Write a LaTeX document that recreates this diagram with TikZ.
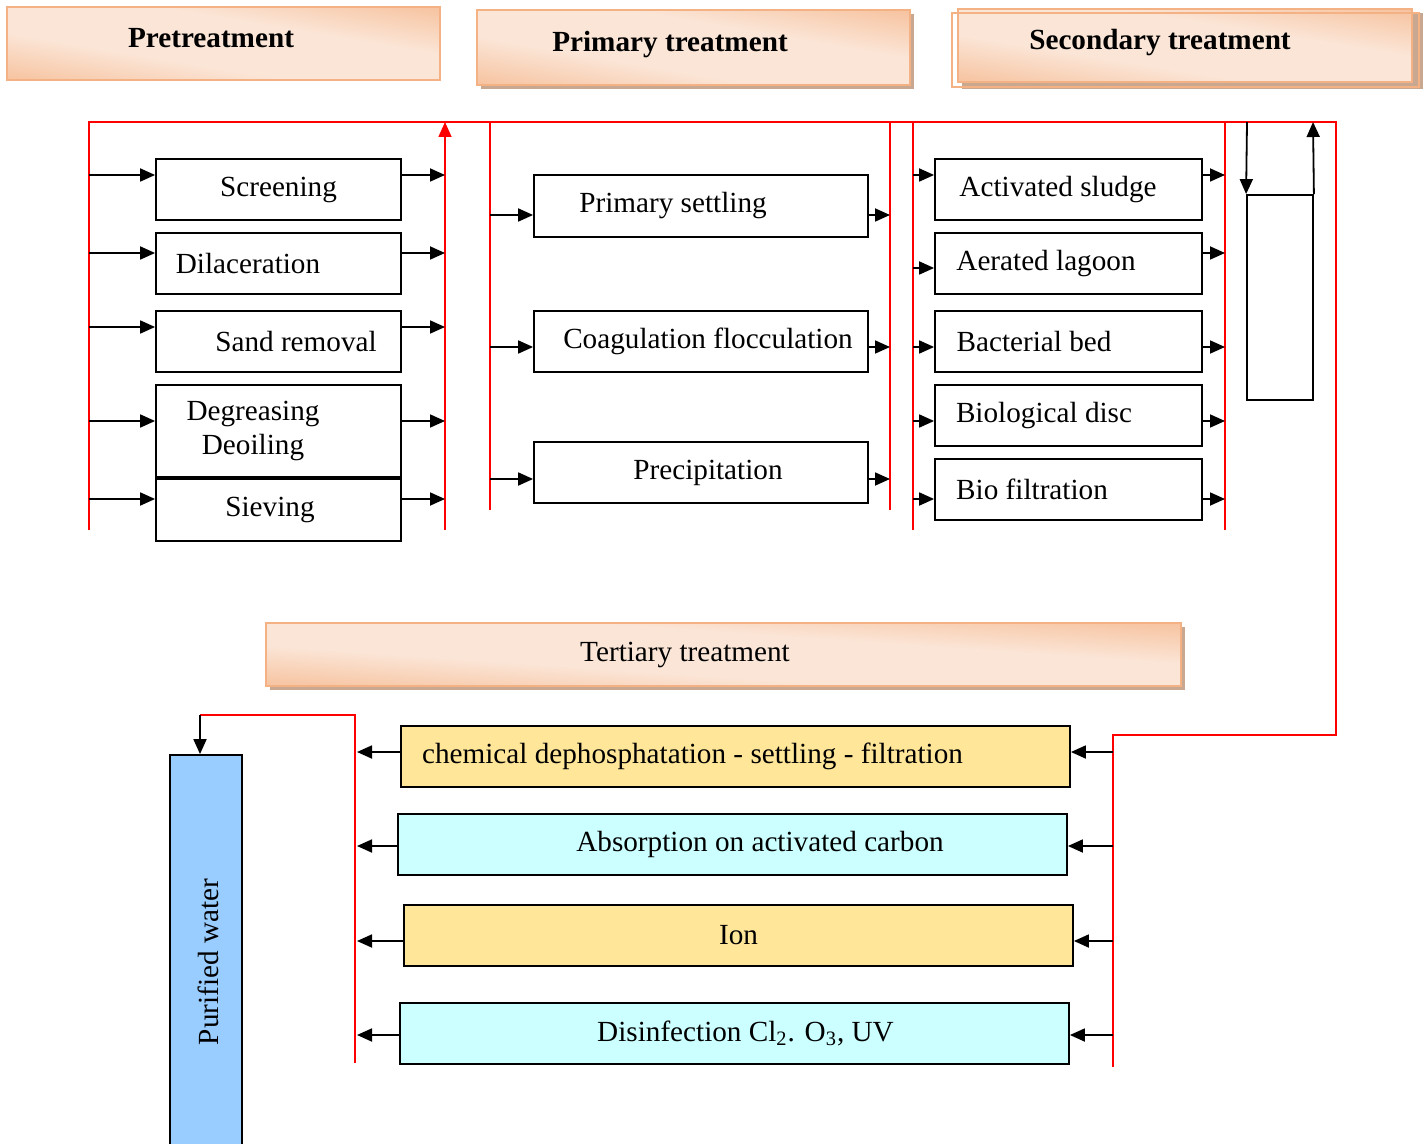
\documentclass[tikz,border=0pt]{standalone}
\usepackage{fontspec}
\setmainfont{Liberation Serif}
\usetikzlibrary{arrows.meta}
\definecolor{hdark}{HTML}{F4B183}
\definecolor{hlight}{HTML}{FBE5D6}
\definecolor{shadc}{HTML}{C8A890}
\definecolor{tyel}{HTML}{FFE699}
\definecolor{tcyan}{HTML}{CCFFFF}
\definecolor{pwblue}{HTML}{99CCFF}
\pgfdeclareverticalshading{hdrsh}{100bp}{color(0bp)=(hdark); color(20bp)=(hdark); color(42bp)=(hlight); color(58bp)=(hlight); color(80bp)=(hdark); color(100bp)=(hdark)}
% #1,#2 = top-left corner, #3,#4 = bottom-right corner (px), #5 = angle, #6 = half height, #7 = half width
\newcommand\hdrgrad[7]{%
  \begin{scope}
    \clip (#1,#2) rectangle (#3,#4);
    \begin{scope}[transform canvas={rotate around={#5:({(#1+#3)/2},{(#2+#4)/2})}}]
      \shade[shading=hdrsh] ({(#1+#3)/2-#7},{(#2+#4)/2-#6}) rectangle ({(#1+#3)/2+#7},{(#2+#4)/2+#6});
    \end{scope}
  \end{scope}}
\begin{document}
\begin{tikzpicture}[x=0.5pt,y=-0.5pt,
  txt/.style={font=\fontsize{14.6}{17}\selectfont},
  hfont/.style={font=\bfseries\fontsize{14.6}{17}\selectfont},
  box/.style={draw=black, line width=0.9pt, inner sep=0pt},
  hdr/.style={draw=hdark, line width=1pt, inner sep=0pt},
  arr/.style={-{Triangle[length=7.5pt,width=6.5pt]}, line width=0.9pt},
  redln/.style={draw=red, line width=0.8pt},
  pbox/.style={box, minimum width=122.5pt, minimum height=30.5pt},
  mbox/.style={box, minimum width=167pt, minimum height=31pt},
  sbox/.style={box, minimum width=133.5pt, minimum height=30.5pt},
  tbox/.style={box, minimum width=334.5pt, minimum height=30.5pt}]
\useasboundingbox (0,0) rectangle (1428,1144);
\fill[white] (0,0) rectangle (1428,1144);

% headers
\hdrgrad{7}{7}{440}{80}{-9.57}{80}{320}
\node[hdr, minimum width=216.5pt, minimum height=36.5pt,
  label={[hfont, xshift=-6.25pt, yshift=2.75pt]center:Pretreatment}] (h1) at (223.5,43.5) {};

\fill[shadc] (481,14) rectangle (914,89);
\hdrgrad{477}{10}{910}{85}{-9.83}{82}{320}
\node[hdr, minimum width=216.5pt, minimum height=37.5pt,
  label={[hfont, xshift=-11.75pt, yshift=1.25pt]center:Primary treatment}] (h2) at (693.5,47.5) {};

\fill[shadc] (962,13) rectangle (1423,89);
\hdrgrad{958}{9}{1412}{82}{-9.13}{80}{330}
\node[hdr, minimum width=227pt, minimum height=36.5pt,
  label={[hfont, xshift=-12.5pt, yshift=1.25pt]center:Secondary treatment}] (h3) at (1185,45.5) {};
\draw[hdark, line width=1pt] (952,13) rectangle (1419,87);

\fill[shadc] (270,627) rectangle (1185,690);
\hdrgrad{266}{623}{1181}{686}{-3.94}{70}{520}
\node[hdr, minimum width=457.5pt, minimum height=31.5pt,
  label={[txt, xshift=-19.25pt]center:Tertiary treatment}] (h4) at (723.5,654.5) {};

% red frame lines
\draw[redln] (89,530) -- (89,122) -- (1336,122) -- (1336,735) -- (1113,735) -- (1113,1067);
\draw[redln, -{Triangle[length=7.5pt,width=6.5pt]}] (445,530) -- (445,122);
\draw[redln] (490,122) -- (490,510);
\draw[redln] (890,122) -- (890,510);
\draw[redln] (913,122) -- (913,530);
\draw[redln] (1225,122) -- (1225,530);
\draw[redln] (355,1063) -- (355,715) -- (200,715);

% pretreatment boxes
\node[pbox, label={[txt]center:Screening}] (scr) at (278.5,189.5) {};
\node[pbox, label={[txt, xshift=-15.25pt]center:Dilaceration}] (dil) at (278.5,263.5) {};
\node[pbox, label={[txt, xshift=8.75pt]center:Sand removal}] (sand) at (278.5,341.5) {};
\node[pbox, minimum height=46pt, label={[txt, align=center, xshift=-12.75pt]center:Degreasing\\Deoiling}] (deg) at (278.5,431) {};
\node[pbox, minimum height=31pt, label={[txt, xshift=-4.25pt]center:Sieving}] (siev) at (278.5,510) {};

\foreach \n/\y in {scr/175, dil/253, sand/327, deg/421, siev/499}{
  \draw[arr] (89,\y) -- (\n.west |- 0,\y);
  \draw[arr] (\n.east |- 0,\y) -- (445,\y);
}

% primary boxes
\node[mbox, label={[txt, xshift=-14pt]center:Primary settling}] (ps) at (701,206) {};
\node[mbox, minimum height=30.5pt, label={[txt, xshift=3.5pt]center:Coagulation flocculation}] (cf) at (701,341.5) {};
\node[mbox, minimum height=30.5pt, label={[txt, xshift=3.5pt]center:Precipitation}] (pr) at (701,472.5) {};
\foreach \n/\y in {ps/215, cf/347, pr/479}{
  \draw[arr] (490,\y) -- (\n.west |- 0,\y);
  \draw[arr] (\n.east |- 0,\y) -- (890,\y);
}

% secondary boxes
\node[sbox, label={[txt, xshift=-5.25pt]center:Activated sludge}] (as) at (1068.5,189.5) {};
\node[sbox, label={[txt, xshift=-11.25pt]center:Aerated lagoon}] (al) at (1068.5,263.5) {};
\node[sbox, label={[txt, xshift=-17.25pt]center:Bacterial bed}] (bb) at (1068.5,341.5) {};
\node[sbox, label={[txt, xshift=-12.25pt]center:Biological disc}] (bd) at (1068.5,415.5) {};
\node[sbox, label={[txt, xshift=-18.25pt]center:Bio filtration}] (bf) at (1068.5,489.5) {};
\foreach \n/\yi/\yo in {as/175/175, al/268/253, bb/347/347, bd/421/421, bf/499/499}{
  \draw[arr] (913,\yi) -- (\n.west |- 0,\yi);
  \draw[arr] (\n.east |- 0,\yo) -- (1225,\yo);
}

% right loop box
\node[box, minimum width=33pt, minimum height=102.5pt] (rb) at (1280,297.5) {};
\draw[arr] (1247,122) -- (rb.north west);
\draw[arr] (rb.north east) -- (1313,122);

% tertiary boxes
\node[tbox, fill=tyel, label={[txt, xshift=-21.5pt]center:chemical dephosphatation - settling - filtration}] (chem) at (735.5,756.5) {};
\node[tbox, fill=tcyan, label={[txt, xshift=13.75pt]center:Absorption on activated carbon}] (abs) at (732.5,844.5) {};
\node[tbox, fill=tyel, label={[txt]center:Ion}] (ion) at (738.5,935.5) {};
\node[tbox, fill=tcyan, label={[txt, xshift=5.5pt]center:Disinfection Cl\textsubscript{2}. O\textsubscript{3}, UV}] (dis) at (734.5,1033.5) {};
\foreach \n/\y in {chem/752, abs/846, ion/941, dis/1035}{
  \draw[arr] (1113,\y) -- (\n.east |- 0,\y);
  \draw[arr] (\n.west |- 0,\y) -- (357,\y);
}

% purified water
\node[box, fill=pwblue, minimum width=36pt, minimum height=200pt] (pw) at (206,955) {};
\node[txt, rotate=90] (pwt) at (208,962) {Purified water};
\draw[arr] (200,715) -- (pw.north -| 200,0);
\end{tikzpicture}
\end{document}
